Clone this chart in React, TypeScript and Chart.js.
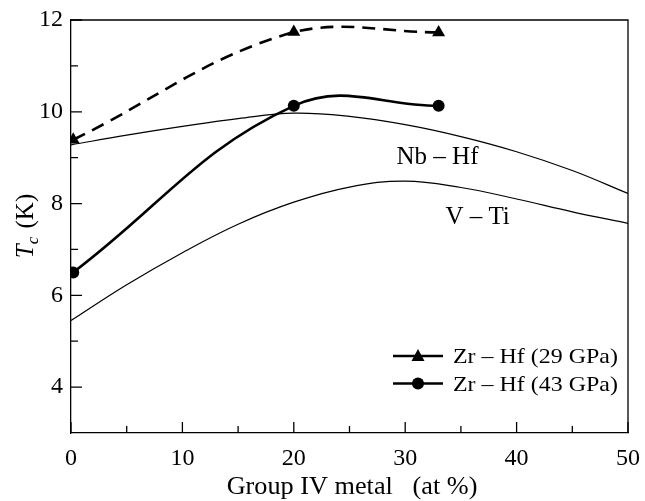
import React, { useEffect, useRef } from "react";
import { Chart, registerables } from "chart.js";

Chart.register(...registerables);

// ---- data ----
const xMajorTicks = [0, 10, 20, 30, 40, 50];
const xMinorTicks = [5, 15, 25, 35, 45];
const yMajorTicks = [4, 6, 8, 10, 12];
const yMinorTicks = [5, 7, 9, 11];

const zrHf29X = [0.2, 20, 33];
const zrHf29Y = [9.39, 11.74, 11.73];

const zrHf43X = [0.2, 20, 33];
const zrHf43Y = [6.5, 10.13, 10.13];

const nbHfX = [0, 5, 10, 15, 20, 25, 30, 35, 40, 45, 50];
const nbHfY = [9.28, 9.49, 9.68, 9.85, 9.97, 9.9, 9.72, 9.46, 9.13, 8.72, 8.22];

const vTiX = [0, 5, 10, 15, 20, 25, 30, 35, 40, 45, 50];
const vTiY = [5.45, 6.23, 6.93, 7.55, 8.03, 8.36, 8.49, 8.35, 8.1, 7.82, 7.57];

const legendLabels = ["Zr \u2013 Hf (29 GPa)", "Zr \u2013 Hf (43 GPa)"];
const curveLabels = ["Nb \u2013 Hf", "V \u2013 Ti"];
const xTitle = "Group IV metal   (at %)";

const SERIF = "'Liberation Serif', 'Times New Roman', serif";

const zip = (xs: number[], ys: number[]) => xs.map((x, i) => ({ x, y: ys[i] }));

function drawStretched(
  ctx: CanvasRenderingContext2D,
  text: string,
  x: number,
  y: number,
  font: string,
  sx: number,
  align: CanvasTextAlign
) {
  ctx.save();
  ctx.font = font;
  ctx.textAlign = align;
  ctx.textBaseline = "alphabetic";
  ctx.translate(x, y);
  ctx.scale(sx, 1);
  ctx.fillText(text, 0, 0);
  ctx.restore();
}

const decorPlugin = {
  id: "decor",
  afterDraw(chart: any) {
    const ctx: CanvasRenderingContext2D = chart.ctx;
    const xs = chart.scales.x;
    const ys = chart.scales.y;
    const { left, right, top, bottom } = chart.chartArea;
    ctx.save();
    ctx.strokeStyle = "#000";
    ctx.fillStyle = "#000";
    ctx.lineWidth = 1.3;
    // frame top & right
    ctx.beginPath();
    ctx.moveTo(left, top);
    ctx.lineTo(right, top);
    ctx.lineTo(right, bottom);
    ctx.stroke();
    // inward ticks
    ctx.beginPath();
    xMajorTicks.forEach((v) => {
      const px = xs.getPixelForValue(v);
      ctx.moveTo(px, bottom);
      ctx.lineTo(px, bottom - 11);
    });
    xMinorTicks.forEach((v) => {
      const px = xs.getPixelForValue(v);
      ctx.moveTo(px, bottom);
      ctx.lineTo(px, bottom - 7);
    });
    yMajorTicks.forEach((v) => {
      const py = ys.getPixelForValue(v);
      ctx.moveTo(left, py);
      ctx.lineTo(left + 11, py);
    });
    yMinorTicks.forEach((v) => {
      const py = ys.getPixelForValue(v);
      ctx.moveTo(left, py);
      ctx.lineTo(left + 7, py);
    });
    ctx.stroke();

    // curve labels
    drawStretched(ctx, curveLabels[0], xs.getPixelForValue(32.9), ys.getPixelForValue(8.86), `25px ${SERIF}`, 1.0, "center");
    drawStretched(ctx, curveLabels[1], xs.getPixelForValue(36.5), ys.getPixelForValue(7.56), `25px ${SERIF}`, 1.0, "center");

    // legend
    const lx0 = 393, lx1 = 443, mx = 418;
    const rows = [356, 383.5];
    rows.forEach((ry, i) => {
      ctx.lineWidth = 2.5;
      ctx.setLineDash([]);
      ctx.beginPath();
      ctx.moveTo(lx0, ry);
      ctx.lineTo(lx1, ry);
      ctx.stroke();
      ctx.beginPath();
      if (i === 0) {
        ctx.moveTo(mx, ry - 7);
        ctx.lineTo(mx + 6.5, ry + 5);
        ctx.lineTo(mx - 6.5, ry + 5);
        ctx.closePath();
      } else {
        ctx.arc(mx, ry, 6, 0, Math.PI * 2);
      }
      ctx.fill();
      drawStretched(ctx, legendLabels[i], 453, ry + 7, `21px ${SERIF}`, 1.14, "left");
    });

    // x title
    drawStretched(ctx, xTitle, 352, 494, `25px ${SERIF}`, 1.05, "center");

    // y title: T_c (K)
    ctx.save();
    ctx.translate(33, 226);
    ctx.rotate(-Math.PI / 2);
    const fT = `italic 25px ${SERIF}`;
    const fc = `italic 17px ${SERIF}`;
    const fK = `25px ${SERIF}`;
    ctx.font = fT;
    const wT = ctx.measureText("T").width;
    ctx.font = fc;
    const wc = ctx.measureText("c").width;
    ctx.font = fK;
    const wK = ctx.measureText(" (K)").width;
    const total = wT + wc + 2 + wK;
    let cx = -total / 2;
    ctx.textBaseline = "alphabetic";
    ctx.textAlign = "left";
    ctx.font = fT;
    ctx.fillText("T", cx, 0);
    cx += wT;
    ctx.font = fc;
    ctx.fillText("c", cx, 5);
    cx += wc + 2;
    ctx.font = fK;
    ctx.fillText(" (K)", cx, 0);
    ctx.restore();

    ctx.restore();
  },
};

export default function App() {
  const ref = useRef<HTMLCanvasElement | null>(null);
  useEffect(() => {
    if (!ref.current) return;
    const chart = new Chart(ref.current, {
      type: "line",
      data: {
        datasets: [
          {
            label: legendLabels[0],
            data: zip(zrHf29X, zrHf29Y),
            borderColor: "#000",
            backgroundColor: "#000",
            borderWidth: 2.6,
            borderDash: [13, 8],
            tension: 0.4,
            pointStyle: "triangle",
            pointRadius: 7.5,
            pointBorderWidth: 0,
            fill: false,
          },
          {
            label: legendLabels[1],
            data: zip(zrHf43X, zrHf43Y),
            borderColor: "#000",
            backgroundColor: "#000",
            borderWidth: 2.6,
            tension: 0.4,
            pointStyle: "circle",
            pointRadius: 6,
            pointBorderWidth: 0,
            fill: false,
          },
          {
            label: curveLabels[0],
            data: zip(nbHfX, nbHfY),
            borderColor: "#000",
            borderWidth: 1.2,
            tension: 0.4,
            pointRadius: 0,
            fill: false,
          },
          {
            label: curveLabels[1],
            data: zip(vTiX, vTiY),
            borderColor: "#000",
            borderWidth: 1.2,
            tension: 0.4,
            pointRadius: 0,
            fill: false,
          },
        ],
      },
      options: {
        animation: false,
        responsive: false,
        maintainAspectRatio: false,
        layout: { padding: { top: 20, right: 17, left: 0, bottom: 0 } },
        plugins: { legend: { display: false }, tooltip: { enabled: false } },
        scales: {
          x: {
            type: "linear",
            min: 0,
            max: 50,
            afterBuildTicks: (s: any) => {
              s.ticks = xMajorTicks.map((v) => ({ value: v }));
            },
            afterFit: (s: any) => {
              s.height = 68;
              s.paddingLeft = 0;
              s.paddingRight = 0;
            },
            grid: { display: false, drawTicks: false },
            border: { display: true, color: "#000", width: 1.3 },
            ticks: {
              color: "#000",
              padding: 11,
              maxRotation: 0,
              font: { family: SERIF, size: 24 },
            },
          },
          y: {
            type: "linear",
            min: 3,
            max: 12,
            afterBuildTicks: (s: any) => {
              s.ticks = yMajorTicks.map((v) => ({ value: v }));
            },
            afterFit: (s: any) => {
              s.width = 71;
              s.paddingTop = 0;
              s.paddingBottom = 0;
            },
            grid: { display: false, drawTicks: false },
            border: { display: true, color: "#000", width: 1.3 },
            ticks: {
              color: "#000",
              padding: 8,
              font: { family: SERIF, size: 24 },
            },
          },
        },
      },
      plugins: [decorPlugin],
    } as any);
    return () => chart.destroy();
  }, []);
  return (
    <div style={{ position: "fixed", left: 0, top: 0, width: 645, height: 501, background: "#fff" }}>
      <canvas ref={ref} width={645} height={501} style={{ width: 645, height: 501, display: "block" }} />
    </div>
  );
}
